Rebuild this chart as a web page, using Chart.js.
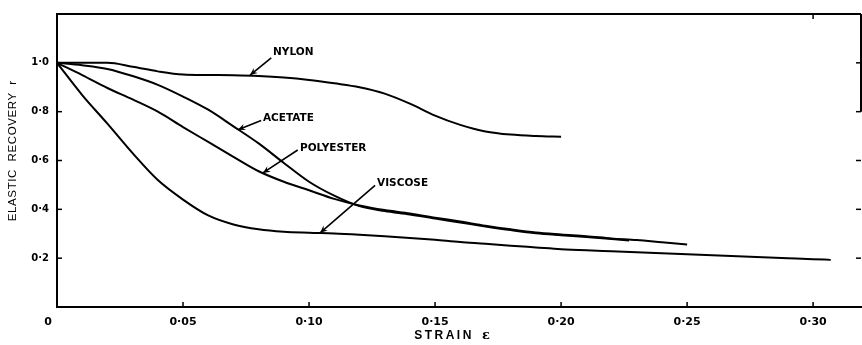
<!DOCTYPE html>
<html>
<head>
<meta charset="utf-8">
<style>
  html, body { margin: 0; padding: 0; background: #fff; }
  #wrap { width: 862px; height: 345px; }
</style>
<script src="https://cdn.jsdelivr.net/npm/chart.js@4/dist/chart.umd.min.js"></script>
</head>
<body>
<div id="wrap"><canvas id="c" width="862" height="345"></canvas></div>
<script>
// Elastic recovery r against strain for four fibres
const nylonStrain    = [0, 0.01, 0.02, 0.03, 0.04, 0.05, 0.06, 0.07, 0.08, 0.09, 0.10, 0.11, 0.12, 0.13, 0.14, 0.15, 0.16, 0.17, 0.18, 0.19, 0.20];
const nylonRecovery  = [1.0, 1.0, 1.0, 0.984, 0.965, 0.952, 0.950, 0.949, 0.946, 0.940, 0.930, 0.916, 0.900, 0.874, 0.833, 0.784, 0.746, 0.719, 0.706, 0.700, 0.697];

const acetateStrain   = [0, 0.01, 0.02, 0.03, 0.04, 0.05, 0.06, 0.07, 0.08, 0.09, 0.10, 0.11, 0.12, 0.13, 0.14, 0.15, 0.16, 0.17, 0.18, 0.19, 0.20, 0.21, 0.227];
const acetateRecovery = [1.0, 0.990, 0.975, 0.946, 0.910, 0.862, 0.808, 0.740, 0.670, 0.590, 0.513, 0.456, 0.413, 0.393, 0.379, 0.362, 0.346, 0.330, 0.315, 0.302, 0.294, 0.287, 0.272];

const polyesterStrain   = [0, 0.01, 0.02, 0.03, 0.04, 0.05, 0.06, 0.07, 0.08, 0.09, 0.10, 0.11, 0.12, 0.13, 0.14, 0.15, 0.16, 0.17, 0.18, 0.19, 0.20, 0.21, 0.22, 0.23, 0.24, 0.25];
const polyesterRecovery = [1.0, 0.950, 0.897, 0.850, 0.800, 0.737, 0.676, 0.615, 0.556, 0.513, 0.478, 0.443, 0.416, 0.397, 0.383, 0.366, 0.350, 0.333, 0.318, 0.305, 0.297, 0.290, 0.281, 0.274, 0.265, 0.256];

const viscoseStrain   = [0, 0.01, 0.02, 0.03, 0.04, 0.05, 0.06, 0.07, 0.08, 0.09, 0.10, 0.11, 0.12, 0.13, 0.14, 0.15, 0.16, 0.17, 0.18, 0.19, 0.20, 0.21, 0.22, 0.23, 0.24, 0.25, 0.26, 0.27, 0.28, 0.29, 0.30, 0.307];
const viscoseRecovery = [1.0, 0.868, 0.751, 0.630, 0.520, 0.440, 0.375, 0.338, 0.318, 0.308, 0.304, 0.301, 0.296, 0.290, 0.283, 0.275, 0.266, 0.259, 0.251, 0.244, 0.237, 0.232, 0.228, 0.224, 0.220, 0.216, 0.212, 0.208, 0.204, 0.200, 0.196, 0.193];

// Axis ticks
const strainTicks   = [0.05, 0.10, 0.15, 0.20, 0.25, 0.30];
const recoveryTicks = [0.2, 0.4, 0.6, 0.8, 1.0];

// Curve labels with leader arrows (label anchor, arrow tail, arrow tip), in data units
const curveNames   = ['NYLON', 'ACETATE', 'POLYESTER', 'VISCOSE'];
const labelAnchors = [[0.0857, 1.042], [0.0817, 0.773], [0.0964, 0.652], [0.1270, 0.507]];
const arrowTails   = [[0.0850, 1.020], [0.0810, 0.764], [0.0955, 0.643], [0.1262, 0.498]];
const arrowTips    = [[0.0766, 0.950], [0.0718, 0.726], [0.0817, 0.549], [0.1044, 0.304]];

const toPoints = (xs, ys) => xs.map((v, i) => ({ x: v, y: ys[i] }));

const curveStyle = {
  borderColor: '#000',
  borderWidth: 2,
  pointRadius: 0,
  fill: false,
  cubicInterpolationMode: 'monotone'
};

const fmt = (v, d) => v.toFixed(d).replace('.', '\u00B7');

const decor = {
  id: 'decor',
  afterDraw(chart) {
    const { ctx, chartArea: a, scales: { x, y } } = chart;
    const seg = (x1, y1, x2, y2) => { ctx.beginPath(); ctx.moveTo(x1, y1); ctx.lineTo(x2, y2); ctx.stroke(); };
    ctx.save();
    ctx.strokeStyle = '#000';
    ctx.fillStyle = '#000';
    ctx.lineCap = 'butt';

    // top border and the visible part of the right border
    ctx.lineWidth = 2;
    seg(a.left, a.top, a.right, a.top);
    seg(a.right, a.top, a.right, y.getPixelForValue(0.8));

    // inward tick marks
    ctx.lineWidth = 1.5;
    strainTicks.forEach(v => {
      const px = x.getPixelForValue(v);
      seg(px, a.bottom, px, a.bottom - 5);
    });
    seg(x.getPixelForValue(0.30), a.top, x.getPixelForValue(0.30), a.top + 5);
    recoveryTicks.forEach(v => {
      const py = y.getPixelForValue(v);
      seg(a.left, py, a.left + 5, py);
      seg(a.right, py, a.right - 5, py);
    });

    // origin label
    ctx.font = 'bold 11px "DejaVu Sans"';
    ctx.textAlign = 'center';
    ctx.textBaseline = 'middle';
    ctx.fillText('0', a.left - 9, a.bottom + 15);

    // axis titles
    ctx.font = 'bold 12px "Liberation Sans"';
    ctx.letterSpacing = '2.5px';
    ctx.textAlign = 'left';
    ctx.fillText('STRAIN', x.getPixelForValue(0.1417), a.bottom + 29);
    ctx.letterSpacing = '0px';
    ctx.font = 'bold 13px "DejaVu Serif"';
    ctx.fillText('\u03B5', x.getPixelForValue(0.1686), a.bottom + 29);

    ctx.save();
    ctx.translate(13, y.getPixelForValue(0.64));
    ctx.rotate(-Math.PI / 2);
    ctx.font = '11.5px "Liberation Sans"';
    ctx.letterSpacing = '0.6px';
    ctx.textAlign = 'center';
    ctx.fillText('ELASTIC  RECOVERY  r', 0, 0);
    ctx.restore();

    // curve labels and arrows
    ctx.font = 'bold 10.5px "DejaVu Sans"';
    ctx.textAlign = 'left';
    ctx.textBaseline = 'middle';
    curveNames.forEach((name, i) => {
      const lx = x.getPixelForValue(labelAnchors[i][0]);
      const ly = y.getPixelForValue(labelAnchors[i][1]);
      ctx.fillText(name, lx, ly);
      const tx = x.getPixelForValue(arrowTails[i][0]);
      const ty = y.getPixelForValue(arrowTails[i][1]);
      const hx = x.getPixelForValue(arrowTips[i][0]);
      const hy = y.getPixelForValue(arrowTips[i][1]);
      ctx.lineWidth = 1.6;
      seg(tx, ty, hx, hy);
      const ang = Math.atan2(hy - ty, hx - tx);
      const len = 8, half = 0.42;
      ctx.beginPath();
      ctx.moveTo(hx, hy);
      ctx.lineTo(hx - len * Math.cos(ang - half), hy - len * Math.sin(ang - half));
      ctx.lineTo(hx - len * 0.6 * Math.cos(ang), hy - len * 0.6 * Math.sin(ang));
      ctx.lineTo(hx - len * Math.cos(ang + half), hy - len * Math.sin(ang + half));
      ctx.closePath();
      ctx.fill();
    });
    ctx.restore();
  }
};

new Chart(document.getElementById('c'), {
  type: 'line',
  data: {
    datasets: [
      Object.assign({ label: 'Nylon', data: toPoints(nylonStrain, nylonRecovery) }, curveStyle),
      Object.assign({ label: 'Acetate', data: toPoints(acetateStrain, acetateRecovery) }, curveStyle),
      Object.assign({ label: 'Polyester', data: toPoints(polyesterStrain, polyesterRecovery) }, curveStyle),
      Object.assign({ label: 'Viscose', data: toPoints(viscoseStrain, viscoseRecovery) }, curveStyle)
    ]
  },
  options: {
    responsive: false,
    animation: false,
    devicePixelRatio: 1,
    layout: { padding: { top: 9, right: 1, left: 0, bottom: 0 } },
    plugins: { legend: { display: false }, tooltip: { enabled: false } },
    scales: {
      x: {
        type: 'linear',
        min: 0,
        max: 0.319,
        afterBuildTicks: s => { s.ticks = strainTicks.map(v => ({ value: v })); },
        afterFit: s => { s.height = 38; },
        grid: { display: false, drawTicks: false },
        border: { display: true, color: '#000', width: 2 },
        ticks: {
          color: '#000',
          padding: 9,
          maxRotation: 0,
          autoSkip: false,
          font: { family: 'DejaVu Sans', size: 11, weight: 'bold' },
          callback: v => fmt(v, 2)
        }
      },
      y: {
        type: 'linear',
        min: 0,
        max: 1.2,
        afterBuildTicks: s => { s.ticks = recoveryTicks.map(v => ({ value: v })); },
        afterFit: s => { s.width = 57; },
        grid: { display: false, drawTicks: false },
        border: { display: true, color: '#000', width: 2 },
        ticks: {
          color: '#000',
          padding: 8,
          autoSkip: false,
          font: { family: 'DejaVu Sans', size: 10, weight: 'bold' },
          callback: v => fmt(v, 1)
        }
      }
    }
  },
  plugins: [decor]
});
</script>
</body>
</html>
